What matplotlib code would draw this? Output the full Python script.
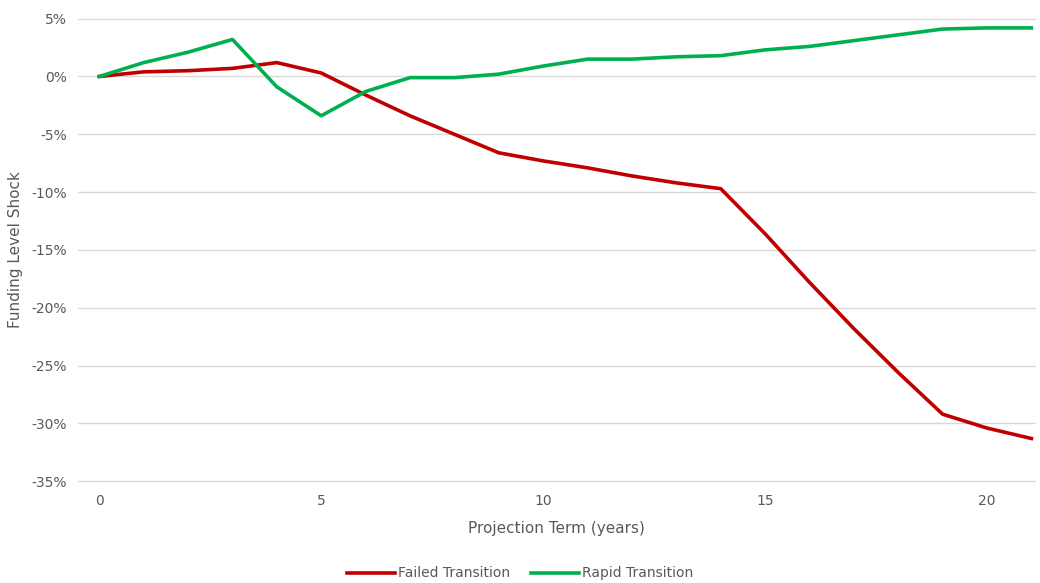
import matplotlib.pyplot as plt
from matplotlib.ticker import FuncFormatter

years = list(range(22))
failed = [0.0, 0.4, 0.5, 0.7, 1.2, 0.3, -1.6, -3.4, -5.0, -6.6, -7.3, -7.9,
          -8.6, -9.2, -9.7, -13.6, -17.8, -21.8, -25.6, -29.2, -30.4, -31.3]
rapid = [0.0, 1.2, 2.1, 3.2, -0.9, -3.4, -1.3, -0.1, -0.1, 0.2, 0.9, 1.5,
         1.5, 1.7, 1.8, 2.3, 2.6, 3.1, 3.6, 4.1, 4.2, 4.2]
y_ticks = [5, 0, -5, -10, -15, -20, -25, -30, -35]
x_ticks = [0, 5, 10, 15, 20]

plt.rcParams['font.family'] = ['Liberation Sans Narrow', 'DejaVu Sans']
text_col = '#595959'

fig = plt.figure(figsize=(10.4, 5.83), dpi=100)
ax = fig.add_axes([0.075, 0.1715, 0.921, 0.7995])

ax.plot(years, failed, color='#C00000', lw=2.6, label='Failed Transition')
ax.plot(years, rapid, color='#00B050', lw=2.6, label='Rapid Transition')

ax.set_xlim(-0.48, 21.1)
ax.set_ylim(-35.15, 5.15)
ax.set_yticks(y_ticks)
ax.set_xticks(x_ticks)
ax.yaxis.set_major_formatter(FuncFormatter(lambda v, p: '%d%%' % v))
ax.grid(axis='y', color='#D9D9D9', lw=1)
ax.set_axisbelow(True)
for s in ax.spines.values():
    s.set_visible(False)
ax.tick_params(length=0, labelsize=10, colors=text_col, pad=8)
ax.set_xlabel('Projection Term (years)', fontsize=11, color=text_col, labelpad=9)
ax.set_ylabel('Funding Level Shock', fontsize=11, color=text_col, labelpad=6)

fig.legend(loc='lower center', ncol=2, bbox_to_anchor=(0.5, -0.017), frameon=False,
           fontsize=10, labelcolor=text_col, handlelength=3.5, handletextpad=0.2,
           columnspacing=1.5)

fig.savefig('out.png', dpi=100)
